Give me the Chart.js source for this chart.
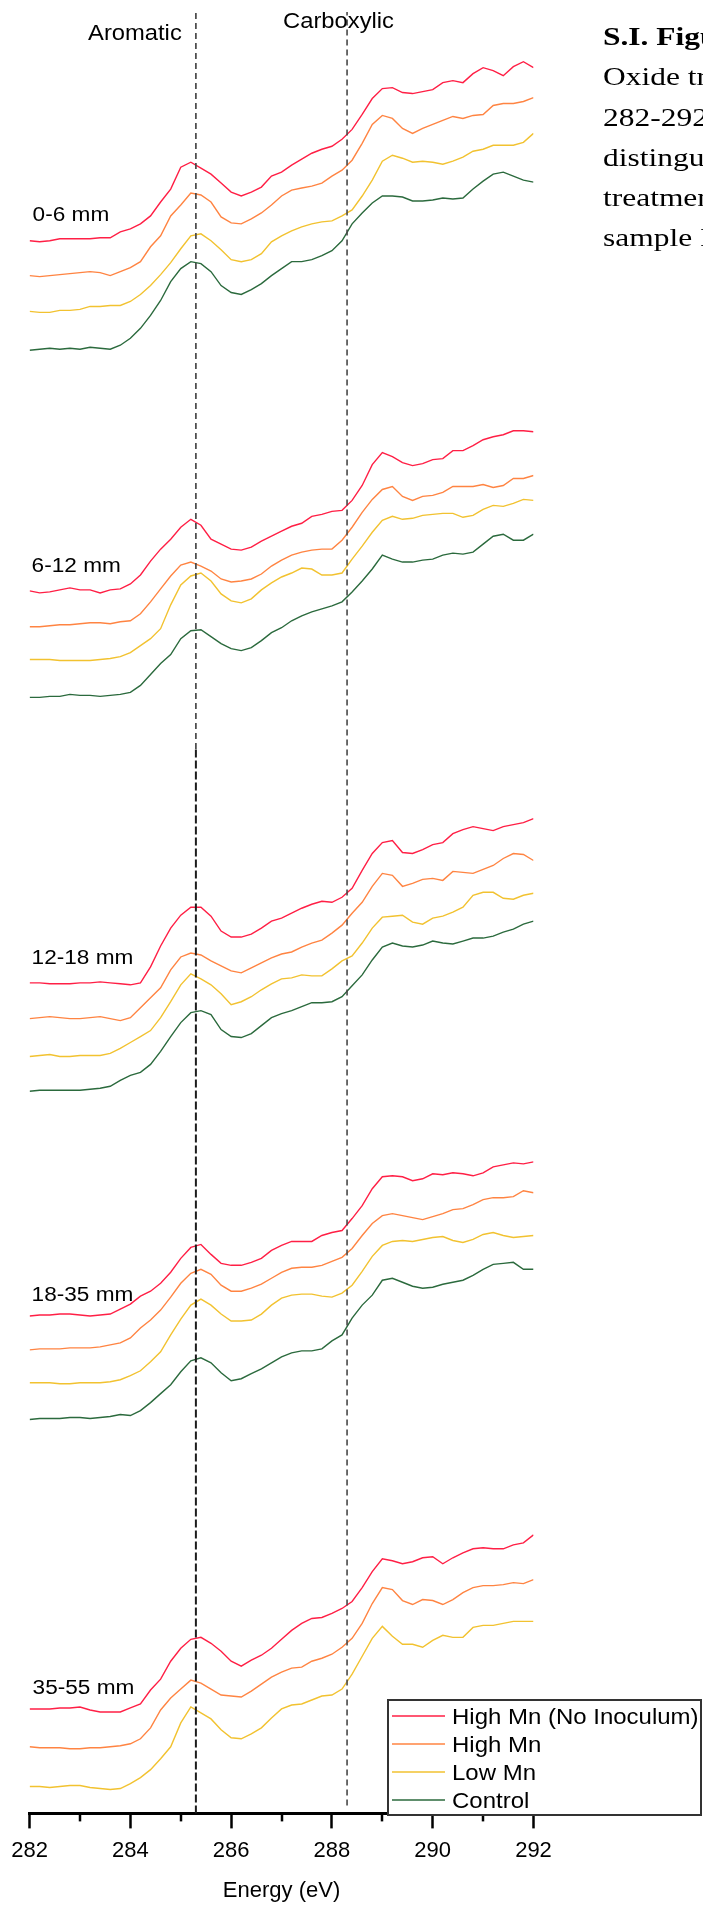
<!DOCTYPE html>
<html>
<head>
<meta charset="utf-8">
<title>C 1s NEXAFS spectra by depth</title>
<script src="https://cdn.jsdelivr.net/npm/chart.js@4.4.1/dist/chart.umd.min.js"></script>
<style>
  html, body { margin: 0; padding: 0; background: #fff; }
  body { width: 703px; height: 1906px; overflow: hidden; position: relative; }
  #chart { position: absolute; left: 0; top: 0; }
  .caption {
    position: absolute; left: 603px; top: 17px;
    font-family: "Liberation Serif", "Times New Roman", serif;
    font-size: 26px; line-height: 40.3px; color: #000;
    white-space: nowrap; transform: scaleX(1.21); transform-origin: 0 0;
  }
</style>
</head>
<body>
<canvas id="chart" width="703" height="1906"></canvas>
<div class="caption"><b>S.I. Figure</b><br>Oxide treatments<br>282-292 eV<br>distinguish<br>treatments<br>sample I</div>
<script>
// Photon energy grid (eV)
const ENERGY_EV = [282.0,282.2,282.4,282.6,282.8,283.0,283.2,283.4,283.6,283.8,284.0,284.2,284.4,284.6,284.8,285.0,285.2,285.4,285.6,285.8,286.0,286.2,286.4,286.6,286.8,287.0,287.2,287.4,287.6,287.8,288.0,288.2,288.4,288.6,288.8,289.0,289.2,289.4,289.6,289.8,290.0,290.2,290.4,290.6,290.8,291.0,291.2,291.4,291.6,291.8,292.0];

// Reference energies for the functional-group markers (eV)
const AROMATIC_EV = 285.3;
const CARBOXYLIC_EV = 288.3;

const SERIES = ['High Mn (No Inoculum)', 'High Mn', 'Low Mn', 'Control'];
const DEPTHS = ['0-6 mm', '6-12 mm', '12-18 mm', '18-35 mm', '35-55 mm'];

// Normalized absorbance, stacked with offsets (a.u.)
const noInoc_0to6  = [158.1,158.0,158.1,158.3,158.3,158.3,158.3,158.4,158.4,159.0,159.3,159.8,160.6,162.0,163.3,165.5,166.0,165.4,164.8,163.9,163.0,162.6,163.0,163.5,164.6,165.0,165.7,166.3,166.9,167.3,167.6,168.3,169.3,170.8,172.4,173.4,173.5,173.0,172.9,173.1,173.3,174.0,174.2,174.0,174.9,175.5,175.2,174.7,175.6,176.1,175.5];
const highMn_0to6  = [154.6,154.5,154.6,154.7,154.8,154.9,155.0,154.9,154.6,155.0,155.4,156.0,157.5,158.6,160.6,161.7,162.9,162.7,162.0,160.5,159.9,159.8,160.3,160.9,161.7,162.6,163.2,163.4,163.6,163.9,164.6,165.2,166.2,167.9,169.8,170.7,170.4,169.4,168.9,169.4,169.8,170.2,170.6,170.4,170.7,170.8,171.7,171.9,171.9,172.1,172.5];
const lowMn_0to6   = [151.0,150.9,150.9,151.1,151.1,151.2,151.5,151.5,151.6,151.6,152.0,152.7,153.6,154.7,155.9,157.3,158.6,158.8,158.1,157.2,156.2,156.0,156.2,156.8,158.0,158.6,159.1,159.5,159.8,160.0,160.1,160.6,161.2,162.6,164.2,166.1,166.7,166.4,166.0,166.1,166.0,165.8,166.1,166.5,167.1,167.3,167.7,167.7,167.7,168.0,168.9];
const control_0to6 = [147.1,147.2,147.3,147.2,147.3,147.2,147.4,147.3,147.2,147.6,148.3,149.3,150.6,152.1,154.0,155.3,156.0,155.8,155.0,153.6,152.9,152.7,153.2,153.8,154.6,155.3,156.0,156.0,156.2,156.6,157.1,158.1,159.8,160.9,161.9,162.6,162.6,162.5,162.1,162.1,162.2,162.4,162.3,162.4,163.3,164.1,164.8,165.0,164.6,164.2,164.0];

const noInoc_6to12  = [122.9,122.7,122.8,123.0,123.2,123.0,123.0,122.7,123.0,123.1,123.6,124.5,125.9,127.1,128.1,129.3,130.1,129.5,128.1,127.6,127.1,127.0,127.3,127.9,128.4,128.9,129.4,129.7,130.4,130.6,130.9,131.0,132.0,133.5,135.6,136.8,136.4,135.8,135.5,135.7,136.1,136.2,137.0,137.0,137.5,138.1,138.4,138.6,139.0,139.0,138.9];
const highMn_6to12  = [119.3,119.3,119.4,119.5,119.5,119.6,119.7,119.7,119.6,119.8,119.9,120.6,121.8,123.1,124.4,125.5,125.8,125.4,124.9,124.1,123.8,123.9,124.1,124.6,125.4,126.0,126.5,126.8,127.0,127.1,127.1,128.0,129.3,130.8,132.1,133.1,133.4,132.4,132.0,132.4,132.5,132.8,133.4,133.4,133.4,133.6,133.3,133.5,134.2,134.2,134.5];
const lowMn_6to12   = [116.0,116.0,116.0,115.9,115.9,115.9,115.9,116.0,116.1,116.3,116.7,117.4,118.1,119.1,121.5,123.5,124.4,124.7,123.9,122.6,121.9,121.7,122.1,123.0,123.7,124.3,124.7,125.2,125.1,124.5,124.5,124.7,126.1,127.4,128.8,130.0,130.4,130.1,130.2,130.5,130.6,130.7,130.7,130.3,130.5,131.1,131.5,131.4,131.7,132.1,132.0];
const control_6to12 = [112.2,112.2,112.3,112.3,112.5,112.4,112.4,112.3,112.4,112.5,112.7,113.4,114.5,115.6,116.5,118.1,118.9,119.0,118.3,117.6,117.1,116.9,117.2,117.9,118.7,119.2,119.9,120.4,120.8,121.1,121.4,121.8,122.8,123.9,125.1,126.5,126.1,125.8,125.8,126.0,126.1,126.5,126.7,126.6,126.8,127.6,128.4,128.6,128.0,128.0,128.6];

const noInoc_12to18  = [83.5,83.5,83.4,83.4,83.4,83.5,83.5,83.6,83.5,83.4,83.3,83.5,85.1,87.2,89.0,90.3,91.1,91.1,90.2,88.7,88.1,88.1,88.4,89.0,89.7,90.0,90.5,91.0,91.4,91.7,91.6,92.1,93.0,94.8,96.5,97.6,97.8,96.6,96.5,96.9,97.4,97.6,98.5,98.9,99.2,99.0,98.8,99.2,99.4,99.6,100.0];
const highMn_12to18  = [79.9,80.0,80.1,80.0,79.9,79.9,80.0,80.1,79.9,79.7,80.0,81.0,82.0,83.0,84.8,86.1,86.5,86.3,85.7,85.2,84.7,84.5,85.0,85.5,86.0,86.4,86.6,87.1,87.5,87.8,88.5,89.3,90.5,91.6,93.2,94.5,94.3,93.2,93.5,93.9,94.0,93.8,94.7,94.6,94.5,94.9,95.3,96.0,96.5,96.4,95.8];
const lowMn_12to18   = [76.1,76.2,76.3,76.1,76.1,76.2,76.2,76.2,76.4,76.9,77.5,78.1,78.7,80.0,81.6,83.3,84.4,83.9,83.3,82.4,81.3,81.6,82.1,82.8,83.4,83.9,84.0,84.3,84.2,84.2,84.9,85.7,86.2,87.5,89.0,90.1,90.2,90.3,89.6,89.4,90.0,90.2,90.6,91.1,92.3,92.6,92.6,92.0,91.9,92.3,92.5];
const control_12to18 = [72.6,72.7,72.7,72.7,72.7,72.7,72.8,72.9,73.1,73.7,74.2,74.5,75.3,76.6,78.1,79.5,80.5,80.7,80.3,78.8,78.1,78.0,78.4,79.2,80.0,80.4,80.7,81.1,81.5,81.5,81.6,82.1,83.2,84.3,85.8,87.1,87.5,87.2,87.1,87.3,87.7,87.5,87.4,87.7,88.0,88.0,88.2,88.6,88.9,89.4,89.7];

const noInoc_18to35  = [50.0,50.1,50.1,50.2,50.2,50.1,50.0,50.1,50.2,50.7,51.2,52.0,52.5,53.3,54.4,55.8,56.9,57.2,56.2,55.3,55.1,55.1,55.4,55.8,56.6,57.1,57.5,57.5,57.5,58.1,58.4,58.6,59.8,61.1,62.8,64.0,64.1,64.0,63.6,63.8,64.3,64.2,64.4,64.3,64.1,64.4,65.0,65.2,65.4,65.3,65.5];
const highMn_18to35  = [46.6,46.7,46.7,46.7,46.8,46.8,46.8,46.9,47.1,47.3,47.8,48.8,49.6,50.6,51.9,53.3,54.3,54.7,54.2,53.1,52.5,52.5,52.8,53.2,53.8,54.4,54.8,54.9,54.9,55.1,55.5,55.9,56.8,58.1,59.3,60.1,60.3,60.1,59.9,59.7,60.0,60.3,60.7,60.8,61.2,61.7,61.9,61.9,62.0,62.6,62.4];
const lowMn_18to35   = [43.3,43.3,43.3,43.2,43.2,43.3,43.3,43.3,43.4,43.6,44.0,44.5,45.4,46.4,48.1,49.7,51.1,51.7,51.1,50.2,49.5,49.5,49.6,50.2,51.1,51.8,52.1,52.2,52.2,52.0,51.9,52.3,53.1,54.5,56.0,57.1,57.5,57.6,57.5,57.7,57.9,58.0,57.6,57.4,57.7,58.2,58.4,58.1,57.9,58.0,58.1];
const control_18to35 = [39.6,39.7,39.7,39.7,39.8,39.8,39.7,39.8,39.9,40.1,40.0,40.5,41.3,42.2,43.1,44.4,45.5,45.8,45.3,44.3,43.5,43.7,44.2,44.7,45.3,45.9,46.3,46.5,46.5,46.7,47.5,48.1,49.8,51.1,52.1,53.6,53.8,53.4,53.0,52.8,52.9,53.2,53.4,53.6,54.1,54.7,55.2,55.3,55.4,54.7,54.7];

const noInoc_35to55 = [10.5,10.5,10.5,10.6,10.6,10.7,10.4,10.2,10.2,10.2,10.6,11.0,12.4,13.5,15.3,16.6,17.5,17.7,17.1,16.3,15.3,14.8,15.4,15.9,16.6,17.5,18.4,19.1,19.6,19.7,20.1,20.6,21.3,22.7,24.3,25.6,25.4,25.1,25.3,25.7,25.8,25.1,25.7,26.2,26.6,26.7,26.6,26.6,27.0,27.2,28.0];
const highMn_35to55 = [6.7,6.6,6.6,6.6,6.5,6.5,6.6,6.6,6.7,6.8,7.0,7.5,8.6,10.4,11.6,12.5,13.4,13.1,12.5,11.9,11.8,11.7,12.3,13.0,13.7,14.2,14.6,14.7,15.3,15.6,16.0,16.7,17.6,19.1,21.1,22.7,22.5,21.4,21.0,21.5,21.4,21.0,21.5,22.2,22.7,22.9,22.9,23.0,23.2,23.1,23.5];
const lowMn_35to55  = [2.7,2.7,2.6,2.7,2.8,2.8,2.6,2.5,2.4,2.5,3.0,3.6,4.4,5.5,6.7,9.1,10.7,10.1,9.5,8.4,7.6,7.5,8.0,8.6,9.6,10.5,10.9,11.0,11.4,11.8,11.9,12.5,14.0,15.8,17.6,18.8,17.8,17.0,17.0,16.7,17.4,17.9,17.7,17.7,18.7,18.9,18.9,19.1,19.3,19.3,19.3];

const PANELS = [
  [noInoc_0to6,   highMn_0to6,   lowMn_0to6,   control_0to6],
  [noInoc_6to12,  highMn_6to12,  lowMn_6to12,  control_6to12],
  [noInoc_12to18, highMn_12to18, lowMn_12to18, control_12to18],
  [noInoc_18to35, highMn_18to35, lowMn_18to35, control_18to35],
  [noInoc_35to55, highMn_35to55, lowMn_35to55, null]
];

// ---- styling / layout ----
const SERIES_COLORS = ['#ff1f45', '#ff8442', '#f2c230', '#2b6a3d'];
const Y_MAX = 181.1;
const SANS = '"Liberation Sans", Arial, Helvetica, sans-serif';

// where the depth labels sit (energy, intensity) at their left baseline
const DEPTH_LABEL_AT = [[282.06, 160.1], [282.04, 124.8], [282.04, 85.4], [282.04, 51.5], [282.06, 12.0]];

const datasets = [];
// marker lines
datasets.push({ label: 'aromatic-upper', data: [{x: AROMATIC_EV, y: 107}, {x: AROMATIC_EV, y: Y_MAX}],
  borderColor: '#484848', borderWidth: 1.7, borderDash: [6, 4], pointRadius: 0 });
datasets.push({ label: 'aromatic-lower', data: [{x: AROMATIC_EV, y: 0}, {x: AROMATIC_EV, y: 107}],
  borderColor: '#1c1c1c', borderWidth: 2, borderDash: [8, 3], pointRadius: 0 });
datasets.push({ label: 'carboxylic', data: [{x: CARBOXYLIC_EV, y: 0.8}, {x: CARBOXYLIC_EV, y: Y_MAX}],
  borderColor: '#484848', borderWidth: 1.6, borderDash: [6, 4], pointRadius: 0 });

PANELS.forEach(panel => {
  panel.forEach((vals, s) => {
    if (!vals) return;
    datasets.push({
      label: SERIES[s],
      data: ENERGY_EV.map((e, i) => ({x: e, y: vals[i]})),
      borderColor: SERIES_COLORS[s],
      borderWidth: 1.4,
      pointRadius: 0,
      tension: 0,
      fill: false
    });
  });
});

function stretchedText(ctx, text, px, py, align, font, sx) {
  ctx.save();
  ctx.font = font;
  ctx.textAlign = align;
  ctx.textBaseline = 'alphabetic';
  ctx.translate(px, py);
  ctx.scale(sx, 1);
  ctx.fillText(text, 0, 0);
  ctx.restore();
}

const labelsPlugin = {
  id: 'panelLabels',
  afterDatasetsDraw(chart) {
    const {ctx} = chart;
    const xs = chart.scales.x, ys = chart.scales.y;
    ctx.save();
    ctx.fillStyle = '#000';
    stretchedText(ctx, 'Aromatic', xs.getPixelForValue(285.02), ys.getPixelForValue(178.3), 'right', '22px ' + SANS, 1.08);
    stretchedText(ctx, 'Carboxylic', xs.getPixelForValue(288.13), ys.getPixelForValue(179.5), 'center', '22px ' + SANS, 1.08);
    DEPTHS.forEach((d, i) => {
      const [e, v] = DEPTH_LABEL_AT[i];
      stretchedText(ctx, d, xs.getPixelForValue(e), ys.getPixelForValue(v), 'left', '20px ' + SANS, 1.13);
    });
    ctx.restore();
  }
};

const axisExtras = {
  id: 'axisExtras',
  afterDraw(chart) {
    const {ctx} = chart;
    const xs = chart.scales.x;
    // minor ticks at odd eV values
    ctx.save();
    ctx.strokeStyle = '#000';
    ctx.lineWidth = 2.5;
    for (let v = 283; v <= 291; v += 2) {
      const px = Math.round(xs.getPixelForValue(v));
      ctx.beginPath();
      ctx.moveTo(px, xs.top);
      ctx.lineTo(px, xs.top + 8);
      ctx.stroke();
    }
    ctx.restore();

    // boxed legend, one entry per treatment
    const box = {left: 388, top: 1700, right: 701, bottom: 1815};
    ctx.save();
    ctx.fillStyle = '#fff';
    ctx.fillRect(box.left, box.top, box.right - box.left, box.bottom - box.top);
    ctx.strokeStyle = '#333';
    ctx.lineWidth = 2;
    ctx.strokeRect(box.left, box.top, box.right - box.left, box.bottom - box.top);
    SERIES.forEach((name, i) => {
      const cy = 1716 + i * 28;
      ctx.strokeStyle = SERIES_COLORS[i];
      ctx.lineWidth = 1.6;
      ctx.beginPath();
      ctx.moveTo(392, cy);
      ctx.lineTo(445, cy);
      ctx.stroke();
      ctx.fillStyle = '#000';
      stretchedText(ctx, name, 452, cy + 8, 'left', '22px ' + SANS, 1.09);
    });
    ctx.restore();
  }
};

new Chart(document.getElementById('chart'), {
  type: 'line',
  data: { datasets },
  options: {
    responsive: false,
    animation: false,
    devicePixelRatio: 1,
    layout: { padding: { left: 29.6, right: 169.5, top: 12, bottom: 0 } },
    plugins: { legend: { display: false }, tooltip: { enabled: false } },
    elements: { line: { tension: 0 } },
    scales: {
      x: {
        type: 'linear',
        min: 282, max: 292,
        ticks: {
          stepSize: 1,
          autoSkip: false,
          maxRotation: 0,
          padding: 9.6,
          color: '#000',
          font: { family: SANS, size: 22 },
          callback: v => (v % 2 === 0 ? String(v) : '')
        },
        grid: {
          display: true,
          drawOnChartArea: false,
          drawTicks: true,
          tickLength: 15,
          tickWidth: 2.5,
          tickColor: c => (c.tick && c.tick.value % 2 === 0 ? '#000' : 'rgba(0,0,0,0)')
        },
        border: { display: true, color: '#000', width: 3 },
        title: {
          display: true,
          text: 'Energy (eV)',
          color: '#000',
          font: { family: SANS, size: 22 },
          padding: { top: 3.6, bottom: 2 }
        }
      },
      y: {
        type: 'linear',
        display: false,
        min: 0, max: Y_MAX
      }
    }
  },
  plugins: [labelsPlugin, axisExtras]
});
</script>
</body>
</html>
